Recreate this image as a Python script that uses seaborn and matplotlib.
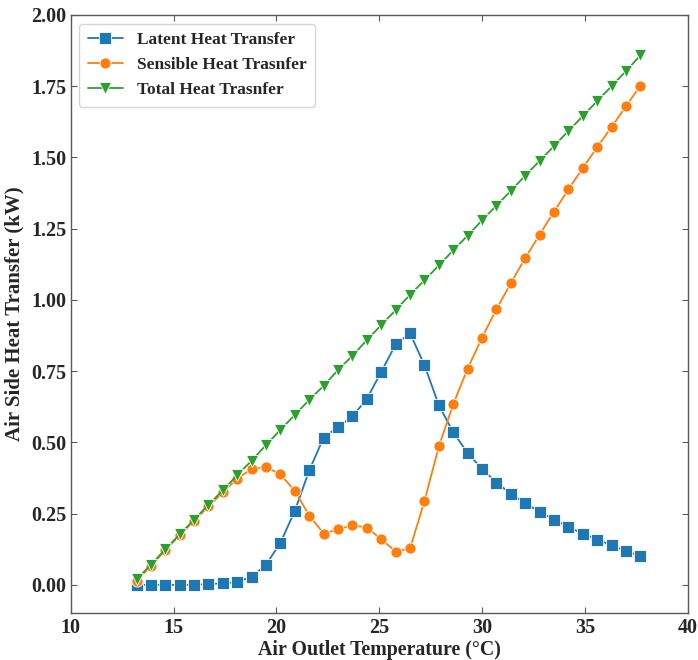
import pandas as pd
import seaborn as sns
import matplotlib.pyplot as plt

temp = [13.2, 13.9, 14.6, 15.3, 16.0, 16.7, 17.4, 18.1, 18.8, 19.5,
        20.2, 20.9, 21.6, 22.3, 23.0, 23.7, 24.4, 25.1, 25.8, 26.5,
        27.2, 27.9, 28.6, 29.3, 30.0, 30.7, 31.4, 32.1, 32.8, 33.5,
        34.2, 34.9, 35.6, 36.3, 37.0, 37.7]

latent = [0.0, 0.0, 0.0, 0.0, 0.0, 0.003, 0.005, 0.01, 0.028, 0.071,
          0.148, 0.26, 0.402, 0.517, 0.554, 0.591, 0.653, 0.747, 0.844, 0.883,
          0.771, 0.631, 0.535, 0.463, 0.407, 0.359, 0.32, 0.286, 0.257, 0.229,
          0.203, 0.18, 0.159, 0.139, 0.119, 0.101]

sensible = [0.015, 0.066, 0.122, 0.174, 0.225, 0.275, 0.325, 0.373, 0.407, 0.413,
            0.388, 0.329, 0.243, 0.18, 0.195, 0.209, 0.201, 0.16, 0.117, 0.128,
            0.294, 0.486, 0.634, 0.759, 0.868, 0.967, 1.059, 1.147, 1.229, 1.31,
            1.388, 1.463, 1.536, 1.607, 1.68, 1.752]

total = [0.02, 0.07, 0.125, 0.177, 0.229, 0.281, 0.332, 0.385, 0.436, 0.491,
         0.544, 0.597, 0.649, 0.699, 0.754, 0.804, 0.859, 0.912, 0.964, 1.018,
         1.069, 1.121, 1.174, 1.226, 1.279, 1.331, 1.383, 1.436, 1.488, 1.54,
         1.593, 1.645, 1.698, 1.75, 1.803, 1.858]

names = ["Latent Heat Transfer", "Sensible Heat Trasnfer", "Total Heat Trasnfer"]

df = pd.concat([
    pd.DataFrame({"T": temp, "Q": latent, "kind": names[0]}),
    pd.DataFrame({"T": temp, "Q": sensible, "kind": names[1]}),
    pd.DataFrame({"T": temp, "Q": total, "kind": names[2]}),
])

sns.set_style("ticks")
plt.rcParams["font.family"] = ["Liberation Serif", "DejaVu Serif"]
plt.rcParams["font.weight"] = "bold"

fig = plt.figure(figsize=(6.98, 6.6), dpi=100)
ax = fig.add_axes([0.1013, 0.0707, 0.8839, 0.9066])

sns.lineplot(data=df, x="T", y="Q", hue="kind", style="kind",
             markers=["s", "o", "v"], dashes=False, palette="tab10",
             markersize=8, markeredgecolor="white", markeredgewidth=0.6,
             linewidth=1.3, ax=ax)

ax.set_xlim(10, 40)
ax.set_ylim(-0.1, 2.0)
ax.set_xticks([10, 15, 20, 25, 30, 35, 40])
ax.set_yticks([0, 0.25, 0.5, 0.75, 1.0, 1.25, 1.5, 1.75, 2.0])
ax.set_yticklabels([f"{v:.2f}" for v in ax.get_yticks()])
ax.tick_params(direction="in", top=True, right=True, length=4,
               labelsize=14.5, color="0.35", pad=3)
for s in ax.spines.values():
    s.set_color("0.35")
    s.set_linewidth(1.0)

ax.set_xlabel("Air Outlet Temperature (°C)", fontsize=14.3, fontweight="bold",
              labelpad=2)
ax.set_ylabel("Air Side Heat Transfer (kW)", fontsize=15, fontweight="bold",
              labelpad=5)

ax.legend(title=None, loc="upper left", fontsize=12.5, frameon=True,
          borderpad=0.5, labelspacing=0.5)

fig.savefig("out.png", dpi=100)
